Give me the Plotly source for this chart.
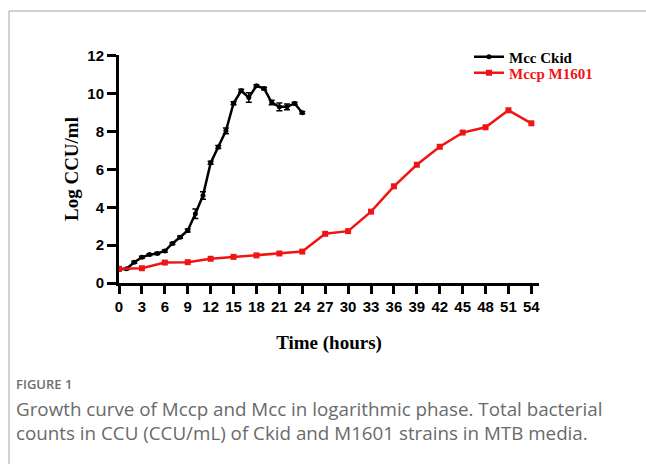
import plotly.graph_objects as go

# Mcc Ckid (hourly, 0-24 h)
ckid_time = list(range(0, 25))
ckid_log = [0.72, 0.75, 1.1, 1.36, 1.5, 1.56, 1.69, 2.09, 2.42, 2.78, 3.66, 4.62,
            6.35, 7.19, 8.04, 9.5, 10.16, 9.8, 10.42, 10.28, 9.54, 9.31, 9.31, 9.49, 9.0]
ckid_err = [0.03, 0.03, 0.05, 0.05, 0.05, 0.05, 0.06, 0.05, 0.06, 0.08, 0.25, 0.2,
            0.08, 0.08, 0.15, 0.08, 0.08, 0.25, 0.06, 0.06, 0.12, 0.2, 0.15, 0.06, 0.06]

# Mccp M1601 (every 3 h, 0-54 h)
m1601_time = list(range(0, 55, 3))
m1601_log = [0.75, 0.78, 1.08, 1.1, 1.28, 1.38, 1.46, 1.56, 1.66, 2.6, 2.74, 3.77,
             5.11, 6.25, 7.2, 7.95, 8.23, 9.13, 8.44]

x_ticks = list(range(0, 55, 3))
y_ticks = list(range(0, 13, 2))

caption_label = "FIGURE 1"
caption_text = ("Growth curve of Mccp and Mcc in logarithmic phase. Total bacterial<br>"
                "counts in CCU (CCU/mL) of Ckid and M1601 strains in MTB media.")

RED = "#f01414"

fig = go.Figure()
fig.add_trace(go.Scatter(
    x=ckid_time, y=ckid_log, name="Mcc Ckid", mode="lines+markers",
    line=dict(color="black", width=2.5),
    marker=dict(color="black", size=5, symbol="circle"),
    error_y=dict(type="data", array=ckid_err, color="black", thickness=1.5, width=3),
    legend="legend",
))
fig.add_trace(go.Scatter(
    x=m1601_time, y=m1601_log,
    name=f"<span style='color:{RED}'>Mccp M1601</span>", mode="lines+markers",
    line=dict(color=RED, width=2.5),
    marker=dict(color=RED, size=6, symbol="square"),
    legend="legend2",
))

axis_font = dict(family="Liberation Sans", size=15, color="black")
title_font = dict(family="Liberation Serif", size=19, color="black")
leg_font = dict(family="Liberation Serif", size=15, color="black", weight="bold")


def px_x(p):
    return (p - 119) / 420


def px_y(p):
    return (283 - p) / 228


fig.update_layout(
    width=646, height=464,
    margin=dict(l=119, r=107, t=55, b=181),
    paper_bgcolor="white", plot_bgcolor="white",
    showlegend=True,
    legend=dict(x=px_x(469), y=px_y(57), xanchor="left", yanchor="middle",
                bgcolor="rgba(0,0,0,0)", font=leg_font, itemwidth=30),
    legend2=dict(x=px_x(469), y=px_y(73), xanchor="left", yanchor="middle",
                 bgcolor="rgba(0,0,0,0)", font=leg_font, itemwidth=30),
    xaxis=dict(range=[0, 55], tickvals=x_ticks, ticktext=[str(v) for v in x_ticks],
               showline=True, linecolor="black", linewidth=3, ticks="outside",
               ticklen=8, tickwidth=3, tickcolor="black", showgrid=False, zeroline=False,
               tickfont=dict(**axis_font, weight="bold"),
               title=dict(text="<b>Time (hours)</b>", font=title_font, standoff=22)),
    yaxis=dict(range=[0, 12.05], tickvals=y_ticks,
               showline=True, linecolor="black", linewidth=3, ticks="outside",
               ticklen=9, tickwidth=3, tickcolor="black", showgrid=False, zeroline=False,
               tickfont=dict(**axis_font, weight="bold"),
               title=dict(text="<b>Log CCU/ml</b>", font=title_font, standoff=4)),
)

# frame border (top and left)
fig.add_shape(type="line", xref="paper", yref="paper",
              x0=px_x(9), x1=px_x(646), y0=px_y(11), y1=px_y(11),
              line=dict(color="#a6a6a6", width=1))
fig.add_shape(type="line", xref="paper", yref="paper",
              x0=px_x(9), x1=px_x(9), y0=px_y(11), y1=px_y(470),
              line=dict(color="#a6a6a6", width=1))

fig.add_annotation(text=caption_label, xref="paper", yref="paper",
                   x=px_x(14), y=px_y(384), xanchor="left", yanchor="middle",
                   showarrow=False,
                   font=dict(family="Open Sans", size=13, color="#6e6e6e", weight=600))
fig.add_annotation(text=caption_text, xref="paper", yref="paper",
                   x=px_x(14), y=px_y(421), xanchor="left", yanchor="middle",
                   align="left", showarrow=False,
                   font=dict(family="Open Sans", size=18.8, color="#6a6a6a"))

fig.write_html("out.html")
